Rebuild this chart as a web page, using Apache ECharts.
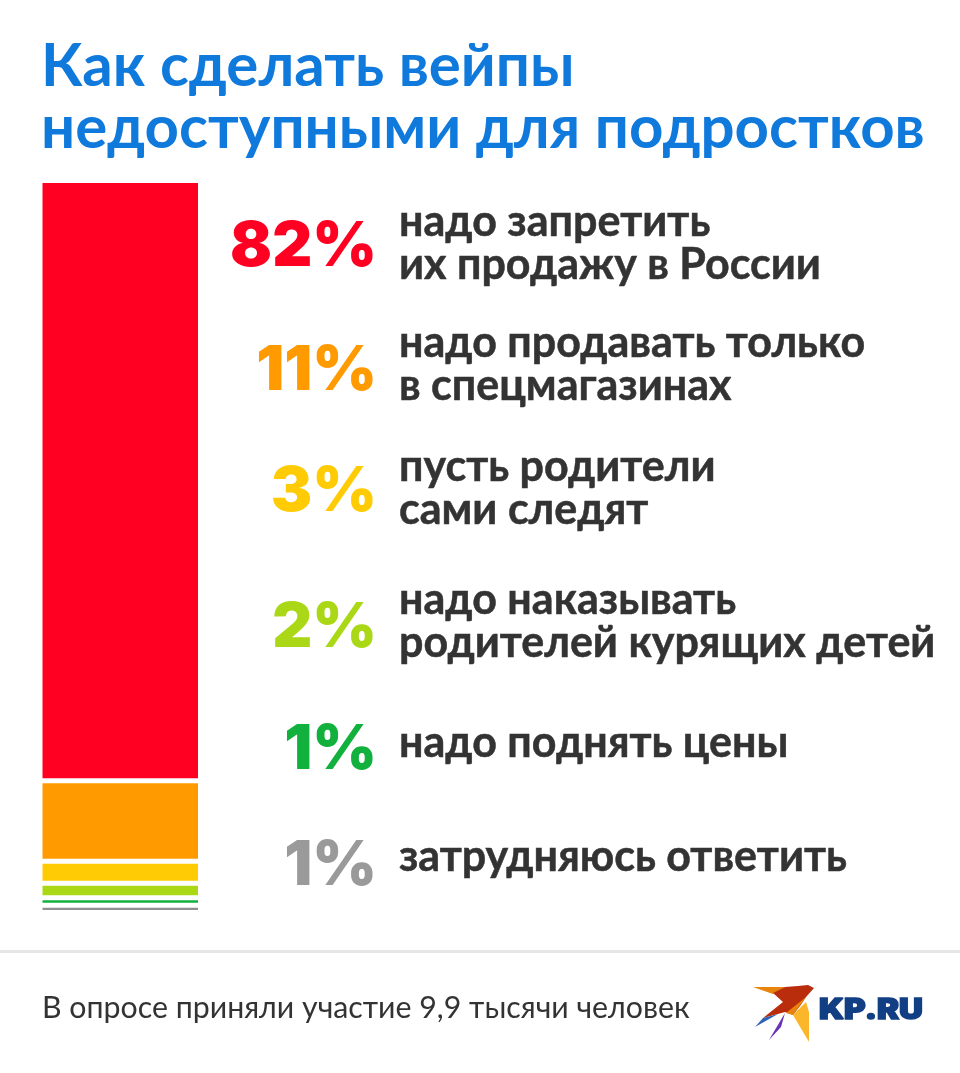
<!DOCTYPE html>
<html>
<head>
<meta charset="utf-8">
<style>html,body{margin:0;padding:0;background:#fff}#chart{width:960px;height:1073px}</style>
<script src="https://cdn.jsdelivr.net/npm/echarts@6/dist/echarts.min.js"></script>
</head>
<body>
<div id="chart"></div>
<script>
const titleLines = ['Как сделать вейпы', 'недоступными для подростков'];
const percents = [82, 11, 3, 2, 1, 1];
const answers = [
  ['надо запретить', 'их продажу в России'],
  ['надо продавать только', 'в спецмагазинах'],
  ['пусть родители', 'сами следят'],
  ['надо наказывать', 'родителей курящих детей'],
  ['надо поднять цены'],
  ['затрудняюсь ответить']
];
const footnote = 'В опросе приняли участие 9,9 тысячи человек';
const colors = ['#ff0022', '#ff9a00', '#ffcb05', '#aad816', '#12b03c', '#8f8f93'];
// layout of the text rows, px
const percentY = [247, 371, 492, 628, 750, 866];
const answerY = [[222, 265], [343, 386], [467, 510], [600, 643], [743], [857]];

const chart = echarts.init(document.getElementById('chart'));

const text = (x, y, str, style, extra) => Object.assign({
  type: 'text', x: x, y: y,
  style: Object.assign({text: str, verticalAlign: 'middle'}, style)
}, extra);

const graphics = [];
titleLines.forEach((line, i) => {
  graphics.push(text(41, [67, 129][i], line, {font: 'bold 60px Lato', fill: '#0f79dc'}));
});
percents.forEach((p, i) => {
  graphics.push(text(377, percentY[i], p + '%', {
    font: '900 62px Inter', fill: i === 5 ? '#9a9a9a' : colors[i], align: 'right'
  }));
  answers[i].forEach((line, j) => {
    graphics.push(text(399, answerY[i][j], line, {
      font: 'bold 43px Lato', fill: '#333333', stroke: '#333333', lineWidth: 0.5
    }));
  });
});
graphics.push({type: 'rect', shape: {x: 0, y: 950, width: 960, height: 3}, style: {fill: '#e6e6e6'}});
graphics.push(text(42, 1008, footnote, {font: '30.3px Lato', fill: '#333333'}));

// kp.ru logo
const poly = (points, fill) => ({type: 'polygon', shape: {points: points}, style: {fill: fill}});
graphics.push(
  poly([[753, 987], [785, 987], [773, 994]], '#e8830c'),
  poly([[773, 993], [785, 987], [798, 986], [808, 985], [814, 988], [806, 997], [800, 1006], [793, 1015], [785, 1012], [763, 1018], [783, 1002]], '#b92c0c'),
  poly([[755, 1027], [763, 1018], [778, 1014]], '#2f64b4'),
  poly([[769, 1040], [785, 1013], [781, 1027]], '#6a32b4'),
  poly([[806, 997], [793, 1015], [786, 1013]], '#e8830c'),
  poly([[793, 1015], [806, 1002], [809, 1012], [809, 1042]], '#fbb62a'),
  text(819, 1011, 'KP.RU', {font: '900 28px Inter', fill: '#123f84', stroke: '#123f84', lineWidth: 1.5}, {scaleX: 1.18})
);

chart.setOption({
  animation: false,
  backgroundColor: '#ffffff',
  grid: {left: 40, top: 180.5, width: 160.5, height: 732},
  xAxis: {type: 'category', data: [''], show: false},
  yAxis: {type: 'value', min: 0, max: 100, inverse: true, show: false},
  series: percents.map((p, i) => ({
    type: 'bar',
    stack: 'total',
    barWidth: 160.5,
    data: [p],
    // the white border makes the gaps between the segments
    itemStyle: {color: colors[i], borderColor: '#ffffff', borderWidth: 2.5},
    silent: true
  })),
  graphic: {elements: graphics}
});
</script>
</body>
</html>
